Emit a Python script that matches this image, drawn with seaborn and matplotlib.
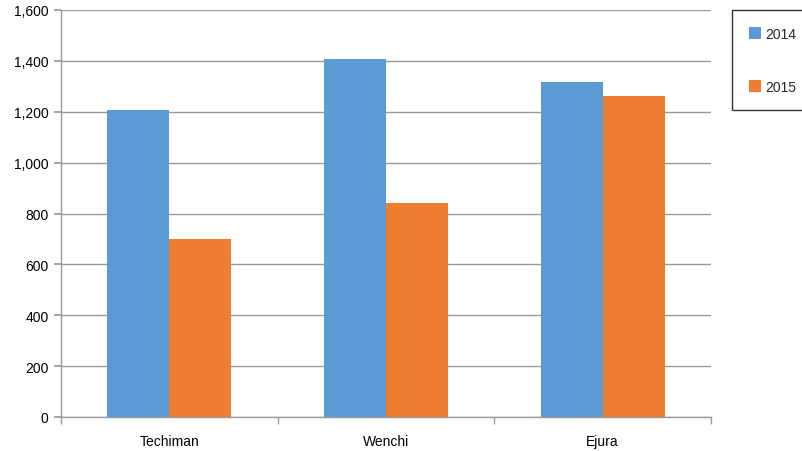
import matplotlib
matplotlib.use("Agg")
import matplotlib.pyplot as plt
import seaborn as sns
import pandas as pd
from matplotlib.ticker import FuncFormatter, FixedLocator

categories = ["Techiman", "Wenchi", "Ejura"]
years = ["2014", "2015"]
values_2014 = [1205, 1406, 1315]
values_2015 = [699, 841, 1261]
colors = ["#5B9BD5", "#ED7D31"]

df = pd.DataFrame({
    "district": categories * 2,
    "year": [years[0]] * 3 + [years[1]] * 3,
    "value": values_2014 + values_2015,
})

sns.set_theme(style="white")
plt.rcParams["font.family"] = ["Liberation Sans", "DejaVu Sans"]

fig = plt.figure(figsize=(8.03, 4.52), dpi=100)
ax = fig.add_axes([61 / 803, 1 - 418 / 452, 650 / 803, 407 / 452])

sns.barplot(data=df, x="district", y="value", hue="year", palette=colors,
            width=0.572, ax=ax, legend=True, saturation=1, linewidth=0)

ax.set_xlim(-0.5, 2.5)
ax.set_ylim(0, 1600)
ax.set_yticks(range(0, 1601, 200))
ax.yaxis.set_major_formatter(FuncFormatter(lambda v, p: f"{int(v):,}"))
ax.set_xlabel("")
ax.set_ylabel("")
ax.grid(axis="y", color="#9a9a9a", linewidth=1)
ax.set_axisbelow(True)
for s in ["top", "right"]:
    ax.spines[s].set_visible(False)
for s in ["left", "bottom"]:
    ax.spines[s].set_color("#9a9a9a")
    ax.spines[s].set_linewidth(1)

ax.tick_params(axis="y", which="major", left=True, length=5, color="#9a9a9a",
               labelsize=10, labelcolor="#000000", pad=4)
ax.tick_params(axis="x", which="major", length=0, labelsize=10,
               labelcolor="#000000", pad=12)
ax.xaxis.set_minor_locator(FixedLocator([-0.5, 0.5, 1.5, 2.5]))
ax.tick_params(axis="x", which="minor", bottom=True, length=5, color="#9a9a9a")

ax.get_legend().remove()
handles, labels = ax.get_legend_handles_labels()
leg = fig.legend(handles, labels, loc="upper left",
                 bbox_to_anchor=(732 / 803, 1 - 11 / 452),
                 frameon=True, fancybox=False, edgecolor="#000000",
                 fontsize=10, handlelength=0.9, handleheight=0.9,
                 handletextpad=0.3, labelspacing=2.8, borderpad=1.2,
                 borderaxespad=0)
leg.get_frame().set_linewidth(1)

fig.savefig("out.png", dpi=100)
